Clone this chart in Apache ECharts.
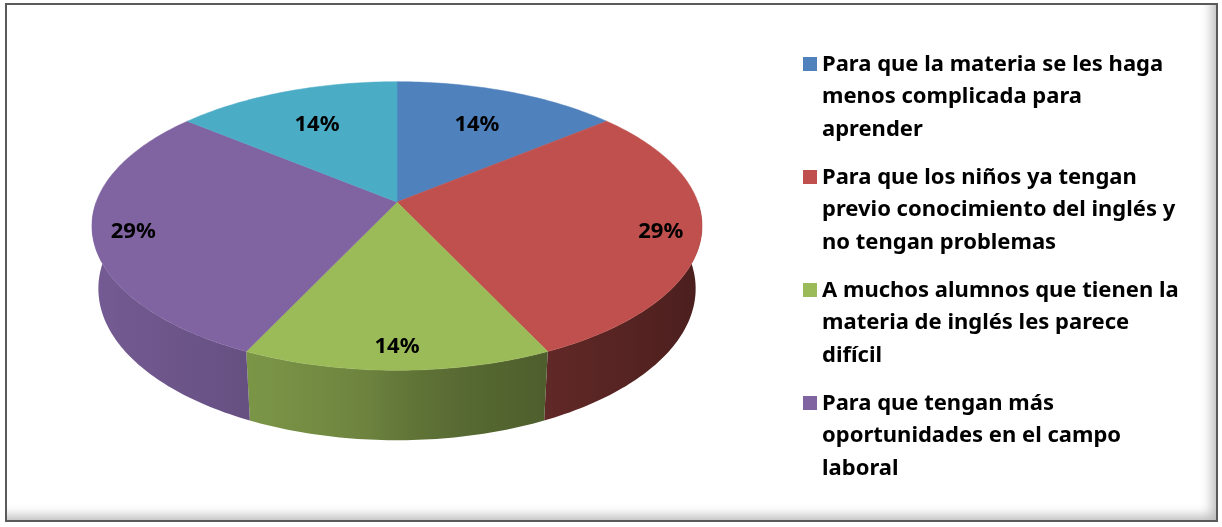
<!DOCTYPE html>
<html>
<head>
<meta charset="utf-8">
<script src="https://cdn.jsdelivr.net/npm/echarts@6/dist/echarts.min.js"></script>
<style>
  html, body { margin: 0; padding: 0; background: #fff; }
  #chart { position: absolute; left: 0; top: 0; width: 1222px; height: 527px; }
  #frame {
    position: absolute; left: 5px; top: 3px; width: 1209px; height: 515px;
    border: 2px solid #5a5a5a;
    box-shadow: inset -10px -10px 12px -6px rgba(0, 0, 0, 0.28);
    pointer-events: none;
  }
</style>
</head>
<body>
<div id="chart"></div>
<div id="frame"></div>
<script>
// porcentajes por respuesta, desde arriba y en sentido horario
const sliceValues = [14, 29, 14, 29, 14]
const sliceColors = ['#4F81BD', '#C0504D', '#9BBB59', '#8064A2', '#4BACC6']
// la leyenda original sólo muestra las cuatro primeras
const legendNames = [
  'Para que la materia se les haga\nmenos complicada para\naprender',
  'Para que los niños ya tengan\nprevio conocimiento del inglés y\nno tengan problemas',
  'A muchos alumnos que tienen la\nmateria de inglés les parece\ndifícil',
  'Para que tengan más\noportunidades en el campo\nlaboral'
]

const total = sliceValues.reduce((a, b) => a + b, 0)
const cum = [0]
sliceValues.forEach(v => cum.push(cum[cum.length - 1] + v))

// proyección en perspectiva del "pastel 3D"
const CX = 397, CY = 202, F = 1600
const R = 0.188, T = 0.0447
const ALPHA = 27.8 * Math.PI / 180
const sinA = Math.sin(ALPHA), cosA = Math.cos(ALPHA)

const project = (theta, rho, h) => {
  const x = rho * R * Math.sin(theta)
  const z = rho * R * Math.cos(theta)
  const depth = 1 + z * cosA - h * sinA
  return [CX + F * x / depth, CY - F * (z * sinA + h * cosA) / depth]
}

const shade = (hex, k) => {
  const n = parseInt(hex.slice(1), 16)
  const r = Math.round(((n >> 16) & 255) * k)
  const g = Math.round(((n >> 8) & 255) * k)
  const b = Math.round((n & 255) * k)
  return `rgb(${r},${g},${b})`
}

// sombreado de la pared: oscura a la derecha, clara a la izquierda
const wallFactor = theta => {
  const s = Math.sin(theta)
  return 0.65 - 0.27 * Math.sign(s) * Math.pow(Math.abs(s), 0.7)
}

const renderItem = (params, api) => {
  const i = params.dataIndex
  const start = cum[i] / total * Math.PI * 2
  const end = cum[i + 1] / total * Math.PI * 2
  const color = sliceColors[i]
  const children = []

  // pared lateral (solo la parte de delante)
  const a0 = Math.max(start, Math.PI / 2)
  const a1 = Math.min(end, Math.PI * 1.5)
  if (a1 > a0) {
    const n = Math.max(4, Math.ceil((a1 - a0) / (Math.PI / 180)))
    const topPts = [], botPts = [], angles = []
    for (let k = 0; k <= n; k++) {
      const b = a0 + (a1 - a0) * k / n
      angles.push(b)
      topPts.push(project(b, 1, 0))
      botPts.push(project(b, 1, -T))
    }
    const xs = topPts.map(p => p[0])
    const xMin = Math.min(...xs), xMax = Math.max(...xs)
    const stops = []
    const step = Math.max(1, Math.floor(n / 10))
    for (let k = 0; k <= n; k += step) {
      stops.push({ offset: (xs[k] - xMin) / (xMax - xMin || 1), color: shade(color, wallFactor(angles[k])) })
    }
    stops.push({ offset: (xs[n] - xMin) / (xMax - xMin || 1), color: shade(color, wallFactor(angles[n])) })
    stops.sort((a, b) => a.offset - b.offset)
    children.push({
      type: 'polygon',
      shape: { points: topPts.concat(botPts.reverse()) },
      style: {
        fill: { type: 'linear', x: xMin, y: 0, x2: xMax, y2: 0, global: true, colorStops: stops }
      }
    })
  }

  // cara superior
  const pts = [project(0, 0, 0)]
  const steps = Math.max(4, Math.ceil((end - start) / (Math.PI / 180)))
  for (let k = 0; k <= steps; k++) {
    pts.push(project(start + (end - start) * k / steps, 1, 0))
  }
  children.push({
    type: 'polygon',
    shape: { points: pts },
    style: { fill: color, stroke: color, lineWidth: 0.5 }
  })

  // etiqueta de porcentaje
  const mid = (start + end) / 2
  const rho = 0.87 - 0.2 * Math.max(0, Math.cos(mid))
  const p = project(mid, rho, 0)
  children.push({
    type: 'text',
    x: p[0],
    y: p[1] + 2,
    z2: 10,
    style: {
      text: Math.round(api.value(0) / total * 100) + '%',
      fill: '#000',
      fontFamily: 'Noto Sans',
      fontWeight: 'bold',
      fontSize: 22,
      align: 'center',
      verticalAlign: 'middle'
    }
  })

  return { type: 'group', children }
}

const chart = echarts.init(document.getElementById('chart'))

chart.setOption({
  animation: false,
  backgroundColor: '#fff',
  legend: {
    orient: 'vertical',
    left: 798,
    top: 43,
    itemWidth: 14,
    itemHeight: 97.5,
    itemGap: 15.5,
    icon: 'path://M0,0L14,0Z M0,9L14,9L14,23L0,23Z M0,97.5L14,97.5Z',
    itemStyle: { borderWidth: 0 },
    data: legendNames,
    selectedMode: false,
    textStyle: {
      fontFamily: 'Noto Sans',
      fontWeight: 'bold',
      fontSize: 22,
      lineHeight: 32.5,
      color: '#000'
    }
  },
  series: [
    {
      type: 'custom',
      coordinateSystem: 'none',
      silent: true,
      data: sliceValues,
      renderItem: renderItem
    },
    {
      // solo para la leyenda
      type: 'pie',
      radius: [0, 0],
      center: [-50, -50],
      silent: true,
      label: { show: false },
      labelLine: { show: false },
      data: legendNames.map((name, i) => ({
        name: name,
        value: sliceValues[i],
        itemStyle: { color: sliceColors[i] }
      }))
    }
  ]
})

window.addEventListener('resize', () => chart.resize())
</script>
</body>
</html>
